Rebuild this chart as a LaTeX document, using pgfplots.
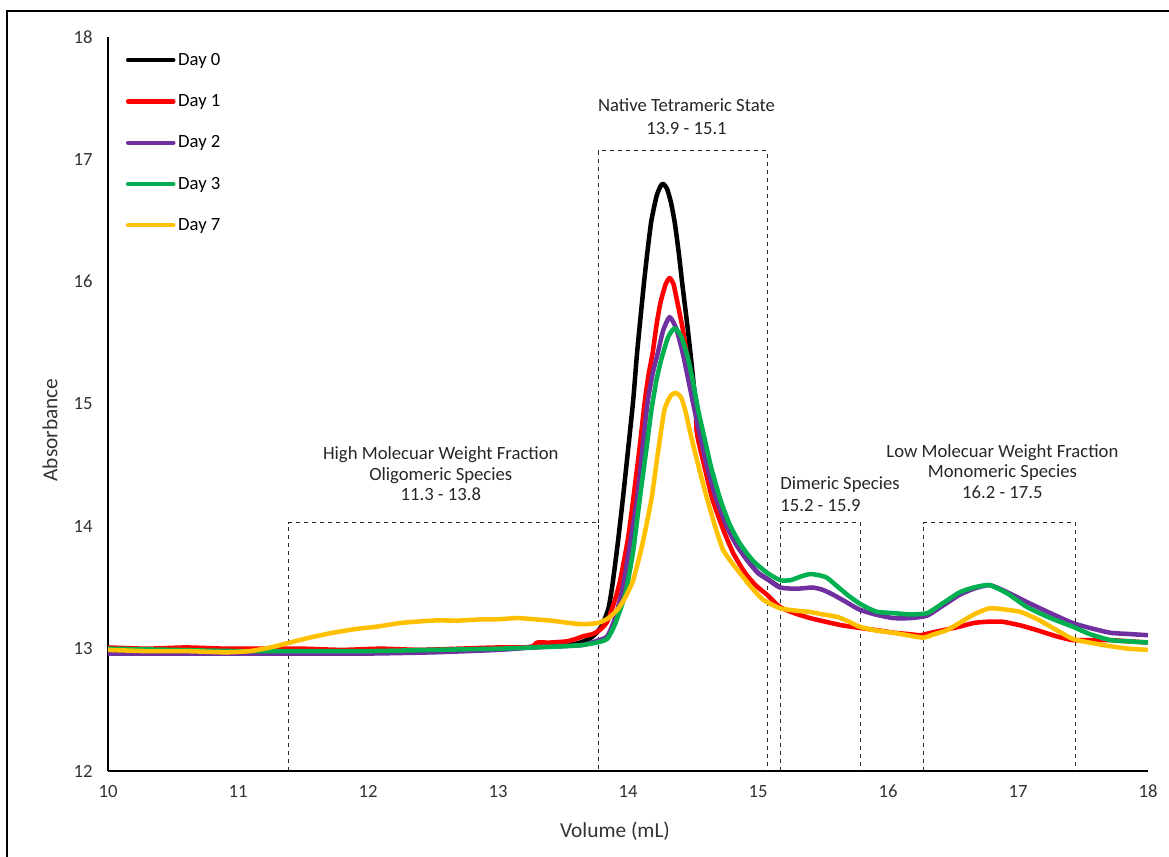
\documentclass[border=0pt]{standalone}
\usepackage{pgfplots}
\pgfplotsset{compat=1.18}
\usepackage{fontspec}
\setmainfont{Carlito}
\definecolor{dred}{HTML}{FF0000}
\definecolor{dpurple}{HTML}{7030A0}
\definecolor{dgreen}{HTML}{00B050}
\definecolor{dyellow}{HTML}{FFC000}
\definecolor{txt}{HTML}{333333}
\definecolor{ann}{HTML}{262626}
\begin{document}
\begin{tikzpicture}
\useasboundingbox (-81pt,-63.75pt) rectangle (795.75pt,578.25pt);
\draw[line width=1.6pt] (-75.75pt,-70pt) -- (-75.75pt,570pt) -- (800pt,570pt);
\begin{axis}[
  anchor=south west,
  scale only axis, width=780pt, height=550.5pt,
  xmin=10, xmax=18, ymin=12, ymax=18,
  xtick={10,...,18}, ytick={12,...,18},
  axis x line*=bottom, axis y line*=left,
  axis line style={line width=1.4pt, black},
  major tick length=0pt,
  /pgf/number format/assume math mode=true,
  tick label style={font=\fontsize{14}{16}\selectfont, text=txt},
  xticklabel style={yshift=-7pt},
  yticklabel style={xshift=-8pt},
  xlabel={Volume (mL)}, ylabel={Absorbance},
  label style={font=\fontsize{16}{18}\selectfont, text=txt},
  xlabel style={at={(axis description cs:0.4875,-0.0817)}, anchor=center},
  ylabel style={at={(axis description cs:-0.0558,0.4646)}, anchor=center},
  legend style={draw=none, fill=none, at={(axis description cs:0.017,0.982)}, anchor=north west,
    font=\fontsize{14}{16}\selectfont, row sep=16.4pt, inner sep=0pt},
  legend cell align=left,
  legend image code/.code={\draw[#1, line width=3.2pt, line cap=round] (0pt,0pt) -- (34pt,0pt);},
  every axis plot/.append style={line width=3.4pt, line join=round, smooth, tension=0.35},
  clip=false,
]
% dashed region boxes
\draw[dashed, line width=0.8pt, ann] (axis cs:11.39,12) -- (axis cs:11.39,14.03) -- (axis cs:13.77,14.03) -- (axis cs:13.77,12);
\draw[dashed, line width=0.8pt, ann] (axis cs:13.77,14.03) -- (axis cs:13.77,17.07) -- (axis cs:15.07,17.07) -- (axis cs:15.07,12);
\draw[dashed, line width=0.8pt, ann] (axis cs:15.17,12) -- (axis cs:15.17,14.03) -- (axis cs:15.79,14.03) -- (axis cs:15.79,12);
\draw[dashed, line width=0.8pt, ann] (axis cs:16.27,12) -- (axis cs:16.27,14.03) -- (axis cs:17.44,14.03) -- (axis cs:17.44,12);

\addplot[black] coordinates {
(10.0,12.98) (10.5,12.99) (11.0,12.98) (11.5,12.98) (12.0,12.98) (12.5,12.99) (13.0,13.00) (13.4,13.02)
(13.6,13.04) (13.7,13.08) (13.75,13.12) (13.8,13.19) (13.85,13.33) (13.88,13.52) (13.92,13.85) (13.96,14.22)
(14.00,14.62) (14.04,15.03) (14.07,15.42) (14.12,15.96) (14.15,16.25) (14.18,16.50) (14.22,16.70) (14.25,16.78)
(14.27,16.80) (14.30,16.76) (14.33,16.65) (14.36,16.48) (14.39,16.24) (14.42,15.96) (14.45,15.70) (14.48,15.42)
(14.52,15.01) (14.55,14.76) (14.61,14.48) (14.68,14.22) (14.76,14.00) (14.84,13.84) (14.92,13.72) (15.00,13.62)
(15.07,13.57) (15.17,13.50)
};
\addlegendentry{Day 0}
\addplot[dred] coordinates {
(10.0,13.01) (10.3,13.00) (10.6,13.01) (10.9,13.00) (11.2,13.00) (11.5,13.00) (11.8,12.99) (12.1,13.00)
(12.4,12.99) (12.7,13.00) (13.0,13.01) (13.2,13.01) (13.27,13.02) (13.30,13.05) (13.4,13.05) (13.53,13.06)
(13.6,13.08) (13.65,13.10) (13.73,13.12) (13.78,13.15) (13.84,13.22) (13.90,13.40) (13.94,13.56) (14.00,13.90)
(14.04,14.22) (14.09,14.65) (14.13,15.03) (14.16,15.25) (14.19,15.42) (14.22,15.65) (14.25,15.83) (14.29,15.98)
(14.32,16.03) (14.35,15.98) (14.38,15.83) (14.42,15.62) (14.45,15.42) (14.49,15.20) (14.52,15.01) (14.53,14.76)
(14.59,14.48) (14.65,14.22) (14.73,13.98) (14.81,13.78) (14.90,13.62) (14.98,13.52) (15.07,13.44) (15.17,13.34)
(15.28,13.29) (15.40,13.25) (15.52,13.22) (15.65,13.19) (15.78,13.17) (15.92,13.15) (16.05,13.13) (16.15,13.12)
(16.25,13.11) (16.33,13.13) (16.42,13.15) (16.55,13.18) (16.66,13.21) (16.76,13.22) (16.88,13.22) (17.02,13.19)
(17.15,13.15) (17.30,13.10) (17.42,13.07) (17.55,13.07) (17.71,13.07) (17.85,13.06) (18.0,13.05)
};
\addlegendentry{Day 1}
\addplot[dpurple] coordinates {
(10.0,12.96) (10.5,12.96) (11.0,12.96) (11.5,12.96) (12.0,12.96) (12.5,12.97) (13.0,12.99) (13.27,13.01)
(13.5,13.02) (13.65,13.03) (13.75,13.06) (13.84,13.10) (13.90,13.25) (13.96,13.50) (14.01,13.82) (14.07,14.22)
(14.11,14.62) (14.15,15.01) (14.19,15.25) (14.23,15.42) (14.27,15.60) (14.32,15.71) (14.37,15.62) (14.42,15.42)
(14.46,15.22) (14.50,15.01) (14.55,14.76) (14.61,14.48) (14.68,14.22) (14.76,14.00) (14.84,13.84) (14.92,13.72)
(15.00,13.62) (15.07,13.57) (15.17,13.50) (15.30,13.49) (15.42,13.50) (15.50,13.48) (15.58,13.44) (15.68,13.38)
(15.78,13.32) (15.90,13.28) (16.04,13.25) (16.17,13.25) (16.30,13.27) (16.42,13.35) (16.55,13.44) (16.66,13.49)
(16.78,13.52) (16.90,13.47) (17.07,13.38) (17.25,13.29) (17.42,13.21) (17.55,13.17) (17.71,13.13) (17.85,13.12)
(18.0,13.11)
};
\addlegendentry{Day 2}
\addplot[dgreen] coordinates {
(10.0,13.00) (10.5,12.99) (11.0,12.98) (11.5,12.98) (12.0,12.98) (12.5,12.99) (13.0,13.00) (13.27,13.01)
(13.5,13.02) (13.65,13.03) (13.76,13.05) (13.84,13.08) (13.90,13.20) (13.98,13.45) (14.04,13.80) (14.09,14.22)
(14.14,14.62) (14.18,14.95) (14.22,15.20) (14.26,15.38) (14.31,15.55) (14.36,15.62) (14.41,15.55) (14.46,15.38)
(14.50,15.18) (14.54,14.95) (14.58,14.76) (14.64,14.48) (14.71,14.22) (14.78,14.02) (14.86,13.86) (14.96,13.72)
(15.07,13.62) (15.17,13.56) (15.25,13.56) (15.33,13.59) (15.40,13.61) (15.47,13.60) (15.53,13.58) (15.62,13.50)
(15.70,13.43) (15.78,13.37) (15.85,13.33) (15.92,13.30) (16.05,13.29) (16.17,13.28) (16.30,13.29) (16.42,13.37)
(16.55,13.46) (16.66,13.50) (16.78,13.52) (16.92,13.45) (17.07,13.34) (17.25,13.25) (17.42,13.18) (17.55,13.12)
(17.71,13.07) (17.85,13.06) (18.0,13.05)
};
\addlegendentry{Day 3}
\addplot[dyellow] coordinates {
(10.0,12.99) (10.3,12.98) (10.6,12.98) (10.9,12.97) (11.09,12.98) (11.25,13.01) (11.40,13.05) (11.55,13.09)
(11.73,13.13) (11.9,13.16) (12.07,13.18) (12.25,13.21) (12.50,13.23) (12.7,13.23) (12.88,13.24) (13.0,13.24)
(13.15,13.25) (13.28,13.24) (13.40,13.23) (13.55,13.21) (13.65,13.20) (13.77,13.21) (13.85,13.25) (13.92,13.32)
(13.98,13.42) (14.04,13.56) (14.11,13.85) (14.18,14.22) (14.23,14.60) (14.28,14.95) (14.33,15.07) (14.37,15.09)
(14.41,15.05) (14.44,14.95) (14.48,14.76) (14.54,14.50) (14.61,14.22) (14.67,14.00) (14.73,13.81) (14.80,13.70)
(14.86,13.62) (14.95,13.50) (15.04,13.40) (15.17,13.33) (15.30,13.31) (15.40,13.30) (15.50,13.28) (15.61,13.26)
(15.70,13.22) (15.78,13.18) (15.90,13.15) (16.04,13.13) (16.15,13.11) (16.27,13.09) (16.36,13.12) (16.45,13.15)
(16.55,13.21) (16.66,13.28) (16.78,13.33) (16.90,13.32) (17.02,13.30) (17.15,13.24) (17.30,13.15) (17.42,13.08)
(17.55,13.05) (17.71,13.02) (17.85,13.00) (18.0,12.99)
};
\addlegendentry{Day 7}

% annotations
\node[font=\fontsize{14}{17}\selectfont, text=ann, align=center] at (axis cs:14.45,17.35) {Native Tetrameric State\\13.9 - 15.1};
\node[font=\fontsize{14}{15.5}\selectfont, text=ann, align=center] at (axis cs:12.56,14.43) {High Molecuar Weight Fraction\\Oligomeric Species\\11.3 - 13.8};
\node[font=\fontsize{14}{16.5}\selectfont, text=ann, align=left, anchor=west, inner sep=0pt] at (axis cs:15.17,14.26) {Dimeric Species\\15.2 - 15.9};
\node[font=\fontsize{14}{15.5}\selectfont, text=ann, align=center] at (axis cs:16.88,14.45) {Low Molecuar Weight Fraction\\Monomeric Species\\16.2 - 17.5};
\end{axis}
\end{tikzpicture}
\end{document}
